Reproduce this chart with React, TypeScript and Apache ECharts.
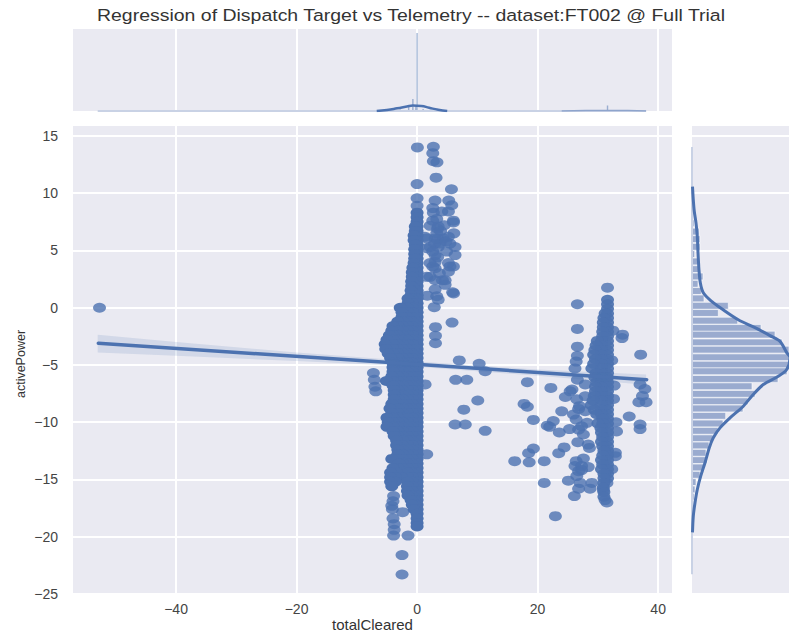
import React, { useEffect, useRef } from "react";
import * as echarts from "echarts";

const TITLE = "Regression of Dispatch Target vs Telemetry -- dataset:FT002 @ Full Trial";
const X_TICKS = [-40, -20, 0, 20, 40];
const Y_TICKS = [-25, -20, -15, -10, -5, 0, 5, 10, 15];

// main column near totalCleared = 0: each row is [activePower, ...totalCleared values]
const centralRows: number[][] = [
  [8.3, 0], [7.9, 0], [7.5, 0], [7.1, 0, -0.3], [6.7, 0, -0.3], [6.3, 0, -0.3, -0.5], [5.9, 0, -0.3, -0.5],
  [5.5, 0, -0.3], [5.1, 0, -0.4], [4.7, 0, -0.4], [4.3, 0, -0.4], [3.9, 0, -0.5], [3.5, 0, -0.7], [3.1, 0, -0.8],
  [2.7, 0, -0.8], [2.3, 0, -0.9], [1.9, 0, -0.9], [1.5, 0, -1], [1.1, 0, -1], [0.8, 0, -0.8, -1.5], [0.4, 0, -0.8, -1.5],
  [0, 0, -0.8, -1.6, -2.8], [-0.4, 0, -0.8, -1.6, -2.5], [-0.8, 0, -0.8, -1.6, -2.5], [-1.2, 0, -0.8, -1.6, -2.4, -3.2],
  [-1.6, 0, -0.8, -1.6, -2.4, -3.2, -4], [-2, 0, -0.8, -1.6, -2.4, -3.2, -4.2], [-2.4, 0, -0.8, -1.6, -2.4, -3.2, -4, -4.6],
  [-2.8, 0, -0.8, -1.6, -2.4, -3.2, -4, -5], [-3.2, 0, -0.8, -1.6, -2.4, -3.2, -4, -5.3], [-3.6, 0, -0.8, -1.6, -2.4, -3.2, -4, -5.2],
  [-4, 0, -0.8, -1.6, -2.4, -3.2, -4, -4.8], [-4.4, 0, -0.8, -1.6, -2.4, -3.2, -4.4], [-4.8, 0, -0.8, -1.6, -2.4, -3.2, -4],
  [-5.2, 0, -0.8, -1.6, -2.4, -3.2, -4], [-5.6, 0, -0.8, -1.6, -2.4, -3.2, -4], [-6, 0, -0.8, -1.6, -2.4, -3.2, -4.2],
  [-6.4, 0, -0.8, -1.6, -2.4, -3.2, -4, -5.1], [-6.8, 0, -0.8, -1.6, -2.4, -3.2, -4], [-7.2, 0, -0.8, -1.6, -2.4, -3.2, -3.8],
  [-7.6, 0, -0.8, -1.6, -2.4, -3.2, -3.8], [-8, 0, -0.8, -1.6, -2.4, -3.2, -3.8], [-8.4, 0, -0.8, -1.6, -2.4, -3.2, -4.2],
  [-8.8, 0, -0.8, -1.6, -2.4, -3.2, -4.5], [-9.2, 0, -0.8, -1.6, -2.4, -3.2, -4.2], [-9.6, 0, -0.8, -1.6, -2.4, -3.2, -4, -5],
  [-10, 0, -0.8, -1.6, -2.4, -3.2, -4, -4.8], [-10.4, 0, -0.8, -1.6, -2.4, -3.2, -4, -5], [-10.8, 0, -0.8, -1.6, -2.4, -3.2, -4],
  [-11.2, 0, -0.8, -1.6, -2.4, -3.2, -3.8], [-11.6, 0, -0.8, -1.6, -2.4, -3.4], [-12, 0, -0.8, -1.6, -2.4, -3.4],
  [-12.4, 0, -0.8, -1.6, -2.4, -3.2], [-12.8, 0, -0.8, -1.6, -2.4, -3.2], [-13.2, 0, -0.8, -1.6, -2.4, -3.2, -4.2],
  [-13.6, 0, -0.8, -1.6, -2.4, -3], [-14, 0, -0.8, -1.6, -2.4, -3.2, -4], [-14.4, 0, -0.8, -1.6, -2.6, -3.4, -4.4],
  [-14.8, 0, -0.8, -1.6, -2.6, -3.6, -4.4], [-15.2, 0, -0.8, -1.6, -3.6, -4.4], [-15.6, 0, -0.8, -1.6, -4.2],
  [-16, 0, -0.8, -1.6], [-16.4, 0, -0.8, -1.5], [-16.8, 0, -0.5, -1], [-17.2, 0, -0.4, -0.8], [-17.6, 0, -0.5],
  [-18, 0], [-18.4, 0], [-18.8, 0], [-19.1, 0],
];

// isolated points around the central column
const centralFringe: number[][] = [
  [0.05, 14], [0, 10.8], [0, 9.56], [0, 8.9],
  [-7.25, -5.7], [-7.1, -6.3], [-7, -6.9], [-6.85, -7.3],
  [-3.9, -16.45], [-4, -16.9], [-4.2, -17.3], [-4.1, -17.6], [-2.4, -17.85], [-4, -18.4], [-3.8, -18.9], [-3.8, -19.4],
  [-3.9, -19.9], [-1.5, -19.9], [-2.5, -21.6], [-2.5, -23.3],
  [1.33, -6.7], [1.6, -12.8], [-52.7, 0],
];

// scattered points to the right of the central column, upper part
const upperCluster: number[][] = [
  [2.7, 14.06], [2.6, 13.5], [2.7, 12.8], [3.3, 12.7], [3.15, 11.36], [5.7, 10.35], [2.99, 9.36], [5.25, 9.36], [5.75, 8.95],
  [2.6, 8.7], [2.7, 8.3], [5.2, 8.4], [4.1, 8.4], [6.03, 7.6], [6.03, 7.45], [3.26, 7.75], [2.16, 7.15], [3.5, 7.1], [6.1, 6.5],
  [5.2, 6.2], [3.26, 6.5], [1.6, 6.05], [2.99, 6.05], [4.35, 6.05], [5.45, 5.6], [3.8, 5.6], [2.16, 5.3], [3.5, 5.3], [6.3, 5.3],
  [4.9, 4.9], [6.3, 4.6], [2.99, 4.6], [2.99, 4], [2.16, 3.9], [5.2, 3.9], [5.45, 3.6], [6.03, 3.6], [5.2, 3.15], [2.99, 3.45],
  [2.16, 2.7], [2.99, 2.4], [1.6, 2.7], [4.65, 2.4], [4.65, 2], [2.99, 1.6], [5.9, 1.35], [6.05, 1.25], [1.7, 1.05], [3.26, 1],
  [3.5, 0.7], [2.85, 0.05], [5.8, -1.3], [3.05, -1.7], [3.05, -2.45], [3.05, -3.1], [1.3, 6.2], [1.6, 5.2], [2.6, 7.6], [3.4, 6.9],
  [3.9, 6.7], [2.9, 5.6], [2.6, 4.9], [3.4, 4.4], [2.6, 3.6], [3.7, 3], [4.2, 2.4], [3.4, 6], [4.8, 5.8], [4.5, 7.2],
];

// points between the two columns
const middleCluster: number[][] = [
  [7, -4.6], [10.3, -4.9], [11.3, -5.55], [6.4, -6.3], [8.25, -6.3], [10.07, -8.1], [7.75, -8.9], [6.3, -10.2], [8, -10.2], [11.3, -10.75],
  [18.3, -6.5], [22.2, -7], [17.75, -8.4], [18.3, -8.65], [19.3, -9.8], [24, -9.05], [22.6, -9.9], [22, -10.4], [23.6, -10.9], [25.3, -10.6],
  [19.3, -12.3], [18.5, -12.7], [16.2, -13.4], [18.6, -13.5], [21.1, -13.4], [24.4, -12.2], [23.5, -12.7], [21.1, -15.3], [25.1, -15.1],
  [26.1, -16.45], [26.8, -15.8], [22.95, -18.2], [25.4, -7.3], [24.6, -7.8], [21.6, -10.3],
];

// scattered points around the column at totalCleared = 31.6
const rightCluster: number[][] = [
  [31.6, 1.75], [26.6, 0.3], [26.6, -1.85], [34.1, -2.35], [34, -2.65], [26.6, -3.4], [26.6, -4.2], [26.4, -4.7], [26.2, -5.3], [37.1, -4.1],
  [37, -6.7], [37.8, -7.1], [37.4, -7.7], [36.8, -8.25], [38, -8.25], [35.2, -9.5], [37, -10.2], [37, -10.6],
  [26.6, -6.28], [27.9, -6.7], [25.7, -7.15], [27.9, -7.73], [26.5, -8], [26.95, -8.6], [26.8, -8.84], [27.9, -9.04], [25.95, -9.33],
  [26.4, -9.77], [28.2, -10.05], [27.3, -10.35], [26.8, -10.64], [27.6, -11.07], [26.67, -11.74], [28.4, -11.95], [28.6, -12.24],
  [26.4, -13.4], [27.6, -13.17], [26.2, -13.83], [27.3, -13.83], [28.4, -13.92], [26.8, -14.27], [27.3, -14.18], [26.5, -14.7],
  [29, -15.3], [27.06, -15.3], [28.7, -15.8], [32.7, -6.8], [32.6, -7.96], [33, -10], [33.1, -10.8], [32.9, -12.67], [32.9, -12.96],
  [32.3, -14.1], [31.5, -15.3], [32.5, -2], [32.3, -4.6], [31.2, -16.8], [31.5, -17], [30.9, -15.9],
];

// right column: [activePower, ...totalCleared values]
const rightRows: number[][] = [
  [0.7, 31.6], [0.3, 31.6], [-0.1, 31.6], [-0.5, 31.6, 31.2], [-0.9, 31.6, 31], [-1.3, 31.6, 30.9], [-1.7, 31.6, 30.9], [-2.1, 31.6, 30.8],
  [-2.5, 31.6, 30.8], [-2.9, 31.6, 30.6, 29.9], [-3.3, 31.6, 30.6, 29.7], [-3.7, 31.6, 30.6, 29.5], [-4.1, 31.6, 30.6, 29.3], [-4.5, 31.6, 30.6, 29.6],
  [-4.9, 31.6, 30.6, 29.3], [-5.3, 31.6, 30.6, 29], [-5.7, 31.6, 30.6, 29.7], [-6.1, 31.6, 30.6, 29.5], [-6.5, 31.6, 30.6, 29.8], [-6.9, 31.6, 30.6, 29.6],
  [-7.3, 31.6, 30.6, 29.6], [-7.7, 31.6, 30.6, 29.4], [-8.1, 31.6, 30.6, 29.2], [-8.5, 31.6, 30.6, 28.9], [-8.9, 31.6, 30.6, 29.4], [-9.3, 31.6, 30.6, 29.8],
  [-9.7, 31.6, 30.8], [-10.1, 31.6, 30.8, 30], [-10.5, 31.6, 30.5], [-10.9, 31.6, 30.6], [-11.3, 31.6, 30.8], [-11.7, 31.6, 30.6], [-12.1, 31.6, 30.8],
  [-12.5, 31.6, 31], [-12.9, 31.6, 30.8], [-13.3, 31.6, 30.6], [-13.7, 31.6, 30.8], [-14.1, 31.6, 30.6], [-14.5, 31.6, 31], [-14.9, 31.6, 31], [-15.3, 31], [-15.7, 30.9], [-16.1, 31], [-16.5, 31],
];

// regression line and its confidence band
const fitLine: number[][] = [[-52.9, -3.1], [38.1, -6.28]];
const bandX = [-53, -40, -20, 0, 20, 38];
const bandUpper = [-2.35, -3.0, -3.9, -4.7, -5.4, -5.84];
const bandLower = [-3.9, -4.2, -4.65, -5.15, -5.95, -6.72];

// top marginal: [totalCleared, height]
const topBars: number[][] = [[0, 78], [-0.7, 12], [-1.4, 4], [-0.2, 5], [31.6, 5.5], [-2.8, 1.5], [1, 2]];
const topKde: number[][] = [
  [-6.7, 0], [-5, 1], [-3.3, 2.7], [-1.7, 4.5], [-0.7, 5.4], [0.7, 5], [2, 3.2], [3.5, 1.2], [5, 0],
];
const topTail: number[][] = [[-53, 0], [38, 0]];
const topKdeSmall: number[][] = [[24, 0], [28, 0.4], [31.6, 0.6], [35, 0.4], [38, 0]];

// right marginal: [height, activePower]
const rightBars: number[][] = [
  [2, 7.38], [7, 6.65], [8, 5.99], [8, 5.32], [2.7, 4.68], [6, 4.04], [8, 3.37], [11, 2.73], [6, 2.09], [9.3, 1.46], [12, 0.81],
  [36.3, 0.17], [26.3, -0.46], [45.7, -1.13], [69, -1.77], [83, -2.35], [90, -3.03], [97, -3.66], [97, -4.33], [97, -4.97],
  [95, -5.55], [86, -6.22], [60, -6.86], [63, -7.52], [56, -8.17], [51, -8.8], [33.7, -9.44], [31, -10.11], [26, -10.75],
  [21, -11.4], [17, -12.03], [14, -12.67], [15, -13.31], [12, -13.95], [8, -14.59], [4, -15.23], [3, -15.87], [2, -16.5],
];
const rightKde: number[][] = [
  [0.5, 10.58], [1.3, 9.42], [2.3, 8.4], [4, 7.41], [5.3, 6.22], [6, 4.8], [7, 3.31], [8.3, 2.18], [11.3, 1.31], [19.7, 0.55],
  [29.7, -0.09], [46.3, -1.05], [63, -1.74], [78, -2.44], [88, -2.94], [94.7, -3.92], [98, -4.36], [94.7, -5.4], [86.3, -5.99],
  [71.3, -6.71], [59.7, -7.73], [51.3, -8.6], [38, -9.62], [28, -10.49], [21.3, -11.36], [17.3, -12.23], [13, -13.54], [8.7, -14.71],
  [5.3, -15.87], [3, -17.03], [1.3, -18.2], [0.5, -19.62],
];
const rightTail: number[][] = [[0, 14.04], [0, -23.28]];

const BLUE = "#4C72B0";
const FONT = "Liberation Sans";
const fmt = (v: number) => String(v).replace("-", "\u2212");

const rowsToPoints = (rows: number[][]) => {
  const out: number[][] = [];
  rows.forEach((r) => r.slice(1).forEach((x) => out.push([x, r[0]])));
  return out;
};

export default function App() {
  const ref = useRef<HTMLDivElement>(null);
  useEffect(() => {
    const chart = echarts.init(ref.current!, null, { renderer: "svg" });
    const points = [...centralFringe, ...upperCluster, ...middleCluster, ...rightCluster];
    const xRange = { min: -57.1, max: 42.3 };
    const yRange = { min: -25, max: 15.87 };
    const white = { show: true, lineStyle: { color: "#fff", width: 2 } };
    const hidden = { show: false };
    const grid = { show: true, backgroundColor: "#EAEAF2", borderWidth: 0, outerBoundsMode: "none" };
    const marker = { type: "scatter", xAxisIndex: 0, yAxisIndex: 0, symbol: "circle", symbolSize: [13, 10], silent: true };
    chart.setOption({
      animation: false,
      backgroundColor: "#fff",
      graphic: [
        {
          type: "text", x: 411, y: 15, scaleX: 1.146,
          style: {
            text: TITLE, fontFamily: FONT, fontSize: 17, fill: "#333",
            textAlign: "center", textVerticalAlign: "middle",
          },
        },
      ],
      grid: [
        { ...grid, left: 73, top: 126, width: 599, height: 468 },
        { ...grid, left: 73, top: 29, width: 599, height: 82 },
        { ...grid, left: 692, top: 126, width: 97, height: 468 },
      ],
      xAxis: [
        {
          type: "value", gridIndex: 0, ...xRange, name: "totalCleared", nameLocation: "middle", nameGap: 23, nameMoveOverlap: false,
          nameTextStyle: { fontFamily: FONT, fontSize: 15, color: "#333" },
          axisLine: hidden, axisTick: { show: false, customValues: X_TICKS }, splitLine: white,
          axisLabel: { customValues: X_TICKS, formatter: fmt, fontFamily: FONT, fontSize: 14, color: "#444", margin: 8 },
        },
        {
          type: "value", gridIndex: 1, ...xRange,
          axisLine: hidden, axisTick: { show: false, customValues: X_TICKS }, splitLine: white, axisLabel: hidden,
        },
        { type: "value", gridIndex: 2, min: 0, max: 97, show: false },
      ],
      yAxis: [
        {
          type: "value", gridIndex: 0, ...yRange, name: "activePower", nameLocation: "middle", nameGap: 46, nameMoveOverlap: false,
          nameTextStyle: { fontFamily: FONT, fontSize: 12.5, color: "#333", padding: [0, 8, 0, 0] },
          axisLine: hidden, axisTick: { show: false, customValues: Y_TICKS }, splitLine: white,
          axisLabel: { customValues: Y_TICKS, formatter: fmt, fontFamily: FONT, fontSize: 14, color: "#444", margin: 15 },
        },
        { type: "value", gridIndex: 1, min: 0, max: 82, show: false },
        {
          type: "value", gridIndex: 2, ...yRange,
          axisLine: hidden, axisTick: { show: false, customValues: Y_TICKS }, splitLine: white, axisLabel: hidden,
        },
      ],
      series: [
        { ...marker, data: points, itemStyle: { color: BLUE, opacity: 0.8 } },
        { ...marker, data: rowsToPoints(rightRows), itemStyle: { color: BLUE, opacity: 0.92 } },
        { ...marker, data: rowsToPoints(centralRows), itemStyle: { color: BLUE, opacity: 1 } },
        {
          type: "custom", xAxisIndex: 0, yAxisIndex: 0, data: [[0, 0]], silent: true, z: 3,
          renderItem: (_: any, api: any) => ({
            type: "polygon",
            shape: {
              points: [
                ...bandX.map((x, i) => api.coord([x, bandUpper[i]])),
                ...bandX.map((x, i) => api.coord([x, bandLower[i]])).reverse(),
              ],
            },
            style: { fill: BLUE, opacity: 0.15 },
          }),
        },
        {
          type: "line", xAxisIndex: 0, yAxisIndex: 0, data: fitLine, symbol: "none", z: 4, silent: true,
          lineStyle: { color: BLUE, width: 3.5, cap: "round" },
        },
        {
          type: "custom", xAxisIndex: 1, yAxisIndex: 1, data: topBars, silent: true, clip: true,
          renderItem: (_: any, api: any) => {
            const a = api.coord([api.value(0), api.value(1)]);
            const b = api.coord([api.value(0), 0]);
            return { type: "rect", shape: { x: a[0] - 0.7, y: a[1], width: 1.4, height: b[1] - a[1] }, style: { fill: BLUE, opacity: 0.5 } };
          },
        },
        {
          type: "line", xAxisIndex: 1, yAxisIndex: 1, data: topTail, symbol: "none", silent: true,
          lineStyle: { color: "#c9d2e5", width: 2 },
        },
        {
          type: "line", xAxisIndex: 1, yAxisIndex: 1, data: topKdeSmall, symbol: "none", silent: true, smooth: true,
          lineStyle: { color: "#8ea4cc", width: 1.5 },
        },
        {
          type: "line", xAxisIndex: 1, yAxisIndex: 1, data: topKde, symbol: "none", silent: true, smooth: true,
          lineStyle: { color: BLUE, width: 2.5 },
        },
        {
          type: "custom", xAxisIndex: 2, yAxisIndex: 2, data: rightBars, silent: true, clip: true,
          renderItem: (_: any, api: any) => {
            const a = api.coord([0, api.value(1) + 0.3]);
            const b = api.coord([api.value(0), api.value(1) - 0.3]);
            return {
              type: "rect",
              shape: { x: a[0], y: a[1], width: b[0] - a[0], height: b[1] - a[1] },
              style: { fill: "#9aabcf", stroke: "#fff", lineWidth: 0.6 },
            };
          },
        },
        {
          type: "line", xAxisIndex: 2, yAxisIndex: 2, data: rightTail, symbol: "none", silent: true,
          lineStyle: { color: "#c9d2e5", width: 2 },
        },
        {
          type: "line", xAxisIndex: 2, yAxisIndex: 2, data: rightKde, symbol: "none", silent: true, smooth: 0.3,
          lineStyle: { color: BLUE, width: 3 },
        },
      ],
    });
    return () => chart.dispose();
  }, []);
  return <div ref={ref} style={{ position: "absolute", left: 0, top: 0, width: 789, height: 633 }} />;
}
